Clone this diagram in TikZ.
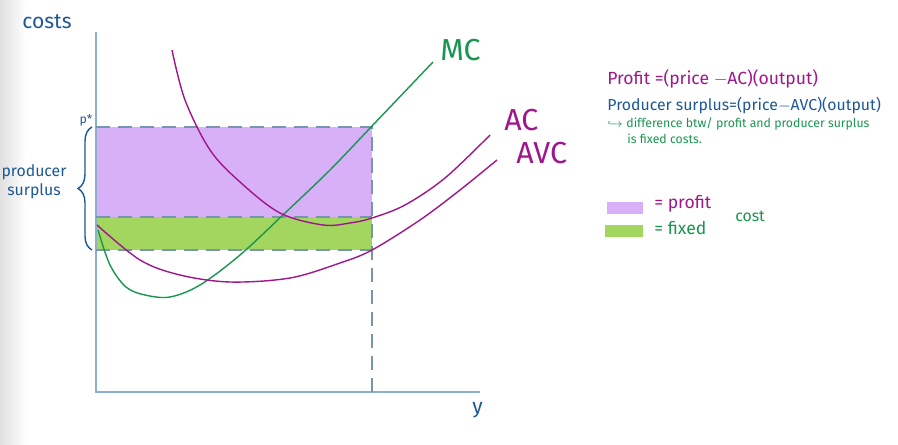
\documentclass[tikz,border=0pt]{standalone}
\usepackage{fontspec}
\setmainfont{Fira Sans}
\usepackage{tikz}
\usetikzlibrary{decorations.pathreplacing}
\definecolor{myBlue}{RGB}{30,88,150}
\definecolor{myAxis}{RGB}{140,175,205}
\definecolor{myMagenta}{RGB}{160,22,140}
\definecolor{myGreen}{RGB}{24,150,80}
\definecolor{myLilac}{RGB}{216,176,248}
\definecolor{myLime}{RGB}{162,214,94}

\begin{document}
\begin{tikzpicture}[
  x=0.02cm, y=-0.02cm,
  axis/.style={draw=myAxis, line width=1.2pt},
  guide/.style={draw=myAxis!85!black, line width=0.9pt, dash pattern=on 8pt off 4.5pt},
  curve/.style={line width=0.8pt},
  lbl/.style={font=\large, anchor=west, inner sep=0pt},
  note/.style={font=\small, anchor=west, inner sep=0pt},
]
  \useasboundingbox (0,0) rectangle (898,445);
  \shade[left color=black!12, right color=white] (0,0) rectangle (26,445);

  % shaded areas
  \fill[myLilac] (96,127) rectangle (372,217);
  \fill[myLime] (96,217) rectangle (372,250);

  % axes
  \draw[axis] (96,32) -- (96,392) -- (480,392);
  \node[lbl, text=myBlue] (costs) at (22,22) {costs};
  \node[lbl, text=myBlue] (yout) at (472,410) {y};

  % price level and guides
  \draw[guide] (96,127) -- (372,127) -- (372,392);
  \draw[guide] (96,217) -- (372,217);
  \draw[guide] (96,250) -- (372,250);
  \node[font=\scriptsize, text=myBlue, inner sep=0pt] (pstar) at (86,120) {p*};
  \draw[myBlue, line width=0.8pt, decorate,
        decoration={brace, amplitude=8pt, mirror}] (92,127) -- (92,250);
  \node[font=\small, text=myBlue, align=center, inner sep=0pt] (ps)
    at (34,182) {producer\\surplus};

  % cost curves
  \draw[curve, myGreen] plot[smooth, tension=0.55] coordinates {
    (98,230) (110,265) (126,287) (145,295) (170,297) (200,285)
    (240,255) (285,213) (330,170) (372,126) (433,62)};
  \draw[curve, myMagenta] plot[smooth, tension=0.55] coordinates {
    (172,50) (185,100) (210,150) (240,182) (280,213) (323,225)
    (350,223) (372,218) (405,205) (445,178) (490,135)};
  \draw[curve, myMagenta] plot[smooth, tension=0.55] coordinates {
    (97,225) (140,260) (180,275) (230,282) (290,278) (340,263)
    (372,250) (420,220) (460,190) (497,160)};
  \node[lbl, text=myGreen, font=\LARGE] (mc) at (440,50) {MC};
  \node[lbl, text=myMagenta, font=\LARGE] (ac) at (504,120) {AC};
  \node[lbl, text=myMagenta, font=\LARGE] (avc) at (516,153) {AVC};

  % formulas
  \node[note, text=myMagenta, font=\normalsize] (profit) at (607,79)
    {Profit =(price $-$AC)(output)};
  \node[note, text=myBlue] (surplus) at (607,106)
    {Producer surplus=(price$-$AVC)(output)};
  \node[note, text=myGreen, font=\scriptsize] (diff) at (607,124)
    {$\hookrightarrow$ difference btw/ profit and producer surplus};
  \node[note, text=myGreen, font=\scriptsize] (diff2) at (627,139)
    {is fixed costs.};

  % legend
  \fill[myLilac] (607,202) rectangle (643,214);
  \fill[myLime] (605,225) rectangle (643,237);
  \node[note, text=myMagenta, font=\normalsize] (lgprofit) at (654,204) {= profit};
  \node[note, text=myGreen, font=\normalsize] (lgfixed) at (654,228) {= fixed};
  \node[note, text=myGreen] (lgcost) at (735,216) {cost};
\end{tikzpicture}
\end{document}
